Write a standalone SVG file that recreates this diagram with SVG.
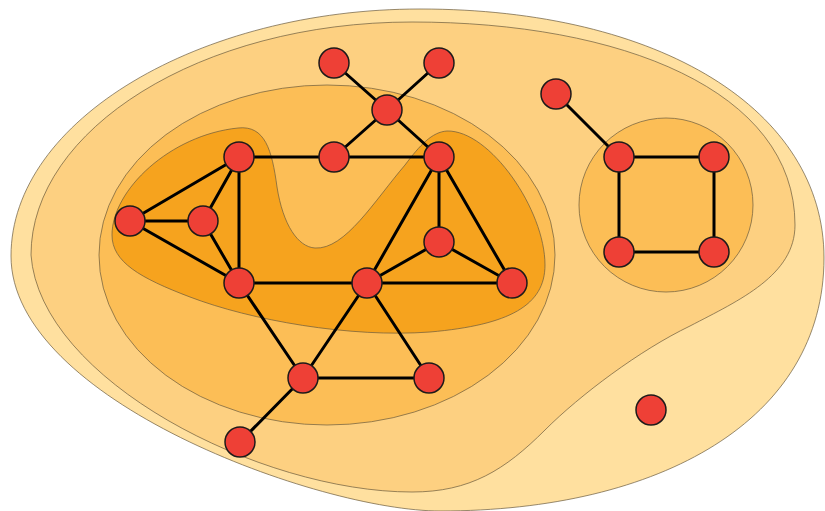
<svg xmlns="http://www.w3.org/2000/svg" width="825" height="511" viewBox="0 0 825 511">
<style>
.reg{stroke:#6a5a3c;stroke-width:0.7}
.r1{fill:#FFE09F}
.r2{fill:#FDD081}
.r3{fill:#FCBE56}
.r4{fill:#F6A31E}
.edge{stroke:#000;stroke-width:3;stroke-linecap:round;fill:none}
.node{fill:#EE4036;stroke:#1e1a1a;stroke-width:1.5}
</style>
<rect width="825" height="511" fill="#fff"/>
<g id="regions">
<path class="reg r1" d="M 420,9 C 660,9 824,110 824,258 C 824,420 660,511 440,511 C 320,511 11,400 11,256 C 11,120 200,9 420,9 Z"/>
<path class="reg r2" d="M 412,22 C 620,22 795,90 795,225 C 795,275 740,300 690,326 C 640,350 580,395 545,430 C 505,470 470,492 412,492 C 260,492 40,380 31,255 C 31,130 200,22 412,22 Z"/>
<ellipse class="reg r3" cx="327" cy="255" rx="228" ry="170"/>
<circle class="reg r3" cx="666" cy="205" r="87"/>
<path class="reg r4" d="M 112,235 C 112,190 170,135 238,128 C 265,125 272,150 277,187 C 283,225 298,247 315,248 C 345,250 375,200 405,165 C 420,145 432,132 447,131 C 490,130 545,210 545,265 C 545,305 510,325 430,332 C 350,338 250,320 190,297 C 140,278 112,262 112,235 Z"/>
</g>
<g id="connectors">
<line class="edge" x1="334" y1="63" x2="387" y2="110"/>
<line class="edge" x1="439" y1="63" x2="387" y2="110"/>
<line class="edge" x1="387" y1="110" x2="334" y2="157"/>
<line class="edge" x1="387" y1="110" x2="439" y2="157"/>
<line class="edge" x1="239" y1="157" x2="439" y2="157"/>
<line class="edge" x1="556" y1="94" x2="619" y2="157"/>
<line class="edge" x1="619" y1="157" x2="714" y2="157"/>
<line class="edge" x1="619" y1="157" x2="619" y2="252"/>
<line class="edge" x1="714" y1="157" x2="714" y2="252"/>
<line class="edge" x1="619" y1="252" x2="714" y2="252"/>
<line class="edge" x1="239" y1="157" x2="130" y2="221"/>
<line class="edge" x1="239" y1="157" x2="203" y2="221"/>
<line class="edge" x1="239" y1="157" x2="239" y2="283"/>
<line class="edge" x1="130" y1="221" x2="203" y2="221"/>
<line class="edge" x1="130" y1="221" x2="239" y2="283"/>
<line class="edge" x1="203" y1="221" x2="239" y2="283"/>
<line class="edge" x1="239" y1="283" x2="512" y2="283"/>
<line class="edge" x1="439" y1="157" x2="439" y2="242"/>
<line class="edge" x1="439" y1="157" x2="367" y2="283"/>
<line class="edge" x1="439" y1="157" x2="512" y2="283"/>
<line class="edge" x1="439" y1="242" x2="367" y2="283"/>
<line class="edge" x1="439" y1="242" x2="512" y2="283"/>
<line class="edge" x1="239" y1="283" x2="303" y2="378"/>
<line class="edge" x1="367" y1="283" x2="303" y2="378"/>
<line class="edge" x1="367" y1="283" x2="429" y2="378"/>
<line class="edge" x1="303" y1="378" x2="429" y2="378"/>
<line class="edge" x1="303" y1="378" x2="240" y2="442"/>
</g>
<g id="n1"><circle class="node" cx="334" cy="63" r="15"/></g>
<g id="n2"><circle class="node" cx="439" cy="63" r="15"/></g>
<g id="n3"><circle class="node" cx="387" cy="110" r="15"/></g>
<g id="n4"><circle class="node" cx="556" cy="94" r="15"/></g>
<g id="n5"><circle class="node" cx="239" cy="157" r="15"/></g>
<g id="n6"><circle class="node" cx="334" cy="157" r="15"/></g>
<g id="n7"><circle class="node" cx="439" cy="157" r="15"/></g>
<g id="n8"><circle class="node" cx="619" cy="157" r="15"/></g>
<g id="n9"><circle class="node" cx="714" cy="157" r="15"/></g>
<g id="n10"><circle class="node" cx="130" cy="221" r="15"/></g>
<g id="n11"><circle class="node" cx="203" cy="221" r="15"/></g>
<g id="n12"><circle class="node" cx="439" cy="242" r="15"/></g>
<g id="n13"><circle class="node" cx="239" cy="283" r="15"/></g>
<g id="n14"><circle class="node" cx="367" cy="283" r="15"/></g>
<g id="n15"><circle class="node" cx="512" cy="283" r="15"/></g>
<g id="n16"><circle class="node" cx="619" cy="252" r="15"/></g>
<g id="n17"><circle class="node" cx="714" cy="252" r="15"/></g>
<g id="n18"><circle class="node" cx="303" cy="378" r="15"/></g>
<g id="n19"><circle class="node" cx="429" cy="378" r="15"/></g>
<g id="n20"><circle class="node" cx="240" cy="442" r="15"/></g>
<g id="n21"><circle class="node" cx="651" cy="410" r="15"/></g>
</svg>
